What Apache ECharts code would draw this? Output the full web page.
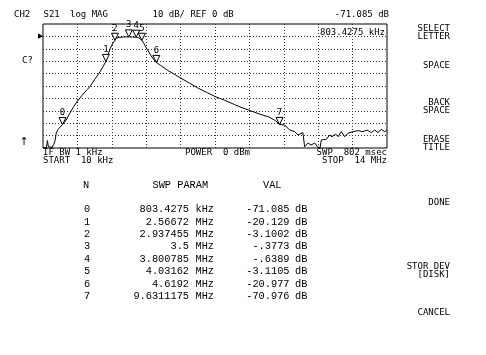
<!DOCTYPE html>
<html>
<head>
<meta charset="utf-8">
<script src="https://cdn.jsdelivr.net/npm/echarts@6/dist/echarts.min.js"></script>
<style>html,body{margin:0;padding:0;background:#fff;}#c{width:486px;height:355px;}</style>
</head>
<body>
<div id="c"></div>
<script>
// ---- data ----
const traceFreqMHz = [0.01,0.09,0.15,0.19,0.23,0.30,0.38,0.45,0.50,0.55,0.62,0.70,0.8034275,0.95,1.10,1.23,1.40,1.60,1.80,1.92,2.10,2.33,2.45,2.56672,2.65,2.75,2.85,2.937455,3.0,3.1,3.3,3.5,3.65,3.800785,3.9,3.97,4.03162,4.12,4.25,4.4,4.52,4.6192,4.8,5.09,5.35,5.58,5.91,6.3,6.7,7.01,7.4,7.8,8.14,8.43,8.8,9.2,9.45,9.6311175,9.84,10.04,10.25,10.38,10.58,10.65,10.79,10.91,11.06,11.19,11.28,11.33,11.53,11.67,11.76,11.91,12.01,12.14,12.28,12.41,12.62,12.82,13.02,13.19,13.36,13.5,13.63,13.77,13.91,14.0];
const traceDb = [-90,-90,-89.5,-84,-89,-90,-89.5,-87,-84,-78,-75,-73.5,-71.085,-67.5,-62,-57.5,-52.5,-47.5,-43,-40.5,-35,-28.5,-24.5,-20.129,-15,-9.5,-5.5,-3.1002,-1.4,-0.7,-0.45,-0.3773,-0.5,-0.6389,-1.1,-2.0,-3.1105,-6,-10.5,-15.5,-18.8,-20.977,-23.5,-27.5,-30.5,-33.3,-37,-41.5,-45.5,-48.5,-51.5,-55,-57.8,-59.8,-62.5,-65,-67.8,-70.976,-71.5,-75.5,-76.8,-79.5,-77.6,-89,-86,-87.6,-86,-89.5,-89.5,-83.5,-83,-79.5,-81,-78.7,-80.9,-76.8,-80.9,-78.1,-76.8,-76,-76.8,-75.5,-77.6,-75.5,-77.6,-75,-76.8,-75.5];

const markerIds = ['0','1','2','3','4','5','6','7'];
const markerFreqMHz = [0.8034275,2.56672,2.937455,3.5,3.800785,4.03162,4.6192,9.6311175];
const markerDb = [-71.085,-20.129,-3.1002,-0.3773,-0.6389,-3.1105,-20.977,-70.976];
const markerFreqText = ['803.4275','2.56672','2.937455','3.5','3.800785','4.03162','4.6192','9.6311175'];
const markerFreqUnit = ['kHz','MHz','MHz','MHz','MHz','MHz','MHz','MHz'];
const markerValText = ['-71.085','-20.129','-3.1002','-.3773','-.6389','-3.1105','-20.977','-70.976'];

const xStartMHz = 0.01, xStopMHz = 14;
const yMin = -90, yMax = 10, yStep = 10, refDb = 0;

const headerTexts = ['CH2','S21','log MAG','10 dB/ REF 0 dB'];
const footerLeft = ['IF BW 1 kHz','START  10 kHz'];
const footerMid = 'POWER  0 dBm';
const footerRight = ['SWP  802 msec','STOP  14 MHz'];
const softkeys = [['SELECT','LETTER'],['SPACE'],['BACK','SPACE'],['ERASE','TITLE'],['DONE'],['STOR DEV','[DISK]'],['CANCEL']];
const tableHeader = ['N','SWP PARAM','VAL'];

// ---- layout ----
const PF = '9px "DejaVu Sans Mono"';
const TF = '10.3px "Liberation Mono"';
function txt(text, x, y, align, font) {
  return {type:'text', silent:true, style:{text:text, x:x, y:y, align:align||'left', textAlign:align||'left', verticalAlign:'middle', textVerticalAlign:'middle', font:font||PF, fill:'#000'}};
}
const g = [];
const hx = [14, 43.5, 70, 152.5];
headerTexts.forEach((t,i)=>g.push(txt(t, hx[i], 15)));
g.push(txt(markerValText[0] + ' dB', 389, 15, 'right'));
g.push(txt(markerFreqText[0] + ' ' + markerFreqUnit[0], 385, 32.5, 'right'));
g.push(txt('C?', 22, 60.5));
g.push(txt('\u2191', 19.5, 142, 'left', '11px "DejaVu Sans"'));
g.push(txt(footerLeft[0], 43, 152.8));
g.push(txt(footerLeft[1], 43, 160.8));
g.push(txt(footerMid, 185, 152.8));
g.push(txt(footerRight[0], 387, 152.8, 'right'));
g.push(txt(footerRight[1], 387, 160.8, 'right'));
const skY = [28.3, 66, 102.8, 139.5, 202.8, 266.8, 312.8];
softkeys.forEach((lines,i)=>lines.forEach((l,j)=>g.push(txt(l, 450, skY[i] + j*8.2, 'right'))));
g.push(txt(tableHeader[0], 83, 185, 'left', TF));
g.push(txt(tableHeader[1], 152.5, 185, 'left', TF));
g.push(txt(tableHeader[2], 263, 185, 'left', TF));
markerIds.forEach((id,i)=>{
  const y = 209.3 + i*12.48;
  g.push(txt(id, 84, y, 'left', TF));
  g.push(txt(markerFreqText[i], 189, y, 'right', TF));
  g.push(txt(markerFreqUnit[i], 195.5, y, 'left', TF));
  g.push(txt(markerValText[i], 289.5, y, 'right', TF));
  g.push(txt('dB', 295, y, 'left', TF));
});

const chart = echarts.init(document.getElementById('c'), null, {renderer:'canvas'});
const dotted = {show:true, showMinLine:false, showMaxLine:false, lineStyle:{color:'#333', width:1, type:[1,2]}};
chart.setOption({
  animation:false,
  backgroundColor:'#fff',
  grid:{left:43, right:99, top:24, bottom:207, show:true, borderColor:'#000', borderWidth:1, backgroundColor:'transparent'},
  xAxis:[
    {type:'value', min:xStartMHz, max:xStopMHz, show:false, splitLine:{show:false}},
    {type:'value', min:0, max:10, interval:1, axisLine:{show:false}, axisTick:{show:false}, axisLabel:{show:false}, splitLine:dotted}
  ],
  yAxis:{type:'value', min:yMin, max:yMax, interval:yStep, axisLine:{show:false}, axisTick:{show:false},
    axisLabel:{show:true, margin:0, fontSize:7, color:'#000', formatter:v=>v===refDb?'\u25B6':''},
    splitLine:dotted},
  series:[
    {type:'line', xAxisIndex:0, data:traceFreqMHz.map((f,i)=>[f,traceDb[i]]), symbol:'none', lineStyle:{color:'#000', width:1}, clip:true, z:3},
    {type:'scatter', xAxisIndex:0, clip:false, z:4,
     data:markerFreqMHz.map((f,i)=>[f,markerDb[i]]),
     symbol:'path://M0,0 L10,0 L5,10 Z', symbolSize:[7,7], symbolOffset:[0,-3.5],
     itemStyle:{color:'#fff', borderColor:'#000', borderWidth:1, opacity:1},
     label:{show:true, position:'top', distance:0, formatter:p=>markerIds[p.dataIndex], fontFamily:'DejaVu Sans Mono', fontSize:9, color:'#000'}}
  ],
  graphic:g
});
</script>
</body>
</html>
